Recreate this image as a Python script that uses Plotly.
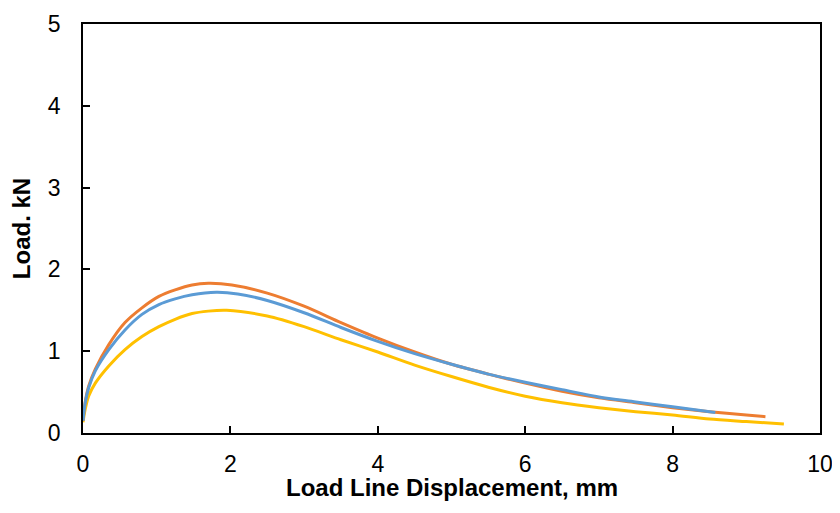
import plotly.graph_objects as go

# Series (displacement in mm, load in kN)
orange_x = [0, 0.03, 0.076, 0.167, 0.35, 0.57, 0.80, 1.03, 1.25, 1.48, 1.70, 2.02, 2.5, 3.0, 3.5, 4.0, 4.5, 5.0, 5.5, 6.0, 6.5, 7.0, 7.5, 8.0, 8.5, 9.0, 9.26]
orange_y = [0.15, 0.38, 0.57, 0.78, 1.08, 1.35, 1.53, 1.67, 1.75, 1.81, 1.83, 1.81, 1.71, 1.55, 1.35, 1.16, 0.99, 0.84, 0.72, 0.61, 0.51, 0.43, 0.37, 0.31, 0.26, 0.22, 0.20]

blue_x = [0, 0.03, 0.076, 0.167, 0.35, 0.57, 0.80, 1.03, 1.25, 1.48, 1.81, 2.1, 2.5, 3.0, 3.5, 4.0, 4.5, 5.0, 5.5, 6.0, 6.5, 7.0, 7.5, 8.0, 8.58]
blue_y = [0.15, 0.37, 0.55, 0.76, 1.02, 1.26, 1.45, 1.57, 1.64, 1.69, 1.72, 1.70, 1.62, 1.47, 1.29, 1.12, 0.97, 0.84, 0.72, 0.62, 0.53, 0.44, 0.38, 0.32, 0.25]

yellow_x = [0, 0.03, 0.076, 0.167, 0.35, 0.57, 0.80, 1.03, 1.25, 1.48, 1.70, 1.95, 2.5, 3.0, 3.5, 4.0, 4.5, 5.0, 5.5, 6.0, 6.5, 7.0, 7.5, 8.0, 8.5, 9.0, 9.51]
yellow_y = [0.13, 0.29, 0.45, 0.61, 0.82, 1.02, 1.18, 1.30, 1.39, 1.46, 1.49, 1.50, 1.43, 1.30, 1.14, 0.99, 0.83, 0.69, 0.56, 0.45, 0.37, 0.31, 0.26, 0.22, 0.17, 0.14, 0.11]

x_ticks = [0, 2, 4, 6, 8, 10]
y_ticks = [0, 1, 2, 3, 4, 5]

x_title = "Load Line Displacement, mm"
y_title = "Load. kN"

FONT = "Liberation Sans, Arial, sans-serif"

fig = go.Figure()
for xs, ys, col in [(yellow_x, yellow_y, "#FFC000"),
                    (orange_x, orange_y, "#ED7D31"),
                    (blue_x, blue_y, "#5B9BD5")]:
    fig.add_trace(go.Scatter(x=xs, y=ys, mode="lines",
                             line=dict(color=col, width=3, shape="spline", smoothing=0.8),
                             showlegend=False, hoverinfo="skip"))

axis_common = dict(
    showgrid=False, zeroline=False,
    showline=True, linecolor="black", linewidth=1.8, mirror=True,
    ticks="inside", ticklen=7, tickwidth=1.8, tickcolor="black",
    tickfont=dict(family=FONT, size=23, color="black"),
)

fig.update_xaxes(range=[0, 10], tickvals=x_ticks, ticklabelstandoff=9, **axis_common)
fig.update_yaxes(range=[0, 5], tickvals=y_ticks, ticklabelstandoff=16,
                 title=dict(text=y_title, standoff=10,
                            font=dict(family=FONT, size=24, color="black", weight="bold")),
                 **axis_common)

# x-axis title placed below the tick labels
fig.add_annotation(text="<b>" + x_title + "</b>", xref="paper", yref="paper",
                   x=0.5, y=-0.133, xanchor="center", yanchor="middle", showarrow=False,
                   font=dict(family=FONT, size=24, color="black"))

fig.update_layout(
    width=840, height=513,
    margin=dict(l=75, r=28, t=16, b=88, autoexpand=False),
    paper_bgcolor="white", plot_bgcolor="white",
)

fig.write_html("out.html")
